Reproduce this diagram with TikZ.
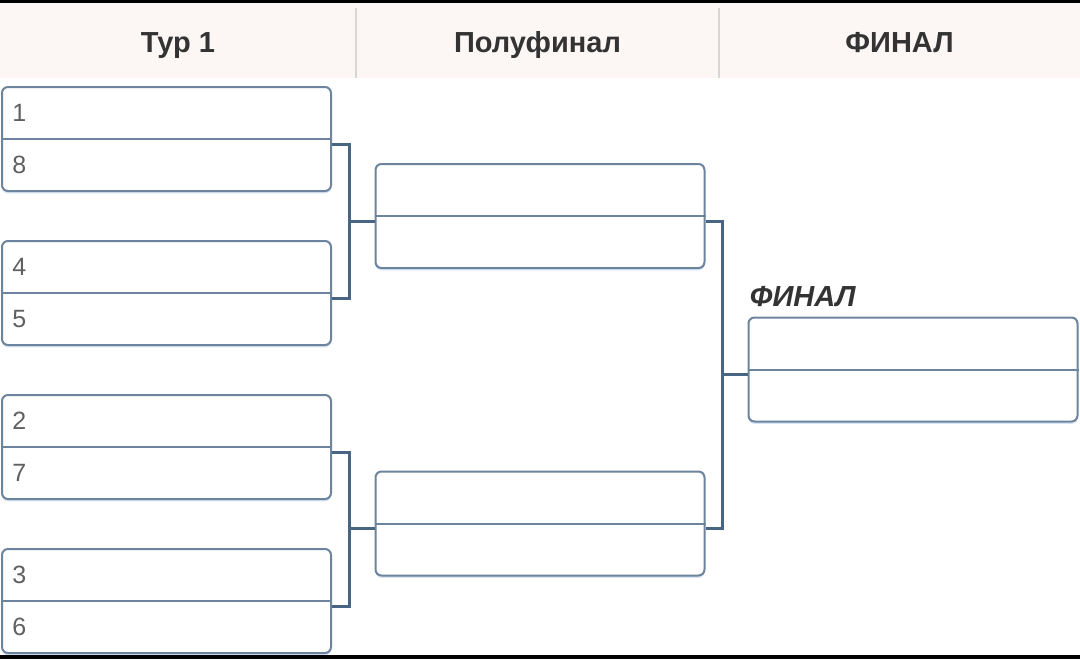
\documentclass[tikz,border=0pt]{standalone}
\usepackage{fontspec}
\setmainfont{Liberation Sans}
\usetikzlibrary{positioning,shadows}

\definecolor{boxline}{RGB}{108,132,158}
\definecolor{linkcol}{RGB}{72,102,132}
\definecolor{headbg}{RGB}{252,246,245}
\definecolor{headsep}{RGB}{214,214,214}
\definecolor{seedtext}{RGB}{96,96,96}
\definecolor{headtext}{RGB}{51,51,51}
\definecolor{glow}{RGB}{205,222,240}

\begin{document}
\begin{tikzpicture}[x=0.5pt,y=-0.5pt,
  team box/.style={draw=boxline,line width=1pt,rounded corners=3pt,fill=white,
    minimum width=164.5pt,minimum height=52pt,inner sep=0pt,
    drop shadow={shadow xshift=0pt,shadow yshift=-1.2pt,fill=glow,opacity=0.8}},
  seed/.style={anchor=west,inner sep=0pt,text=seedtext,font=\fontsize{12.5}{14}\selectfont},
  head cell/.style={fill=headbg,minimum width=178pt,minimum height=37.5pt,inner sep=0pt,
    text height=11.5pt,text depth=0pt,
    text=headtext,font=\fontsize{14.5}{16}\selectfont\bfseries},
  link/.style={draw=linkcol,line width=1.5pt},
  divider/.style={draw=boxline,line width=1pt}]

  \useasboundingbox (0,0) rectangle (1080,659);
  \fill[white] (0,0) rectangle (1080,659);

  % header
  \node[head cell] (hd1) at (178,40.5) {Тур 1};
  \node[head cell,minimum width=181.5pt] (hd2) at (537.5,40.5) {Полуфинал};
  \node[head cell,minimum width=180.5pt] (hd3) at (899.5,40.5) {ФИНАЛ};
  \draw[headsep,line width=1pt] ([yshift=-2.5pt]hd1.north east) -- (hd1.south east);
  \draw[headsep,line width=1pt] ([yshift=-2.5pt]hd2.north east) -- (hd2.south east);

  % round 1
  \node[team box] (r1a) at (166.5,139) {};
  \node[team box] (r1b) [below=24pt of r1a] {};
  \node[team box] (r1c) [below=24pt of r1b] {};
  \node[team box] (r1d) [below=24pt of r1c] {};

  % semifinals and final
  \node[team box] (sfa) at (540,216) {};
  \node[team box] (sfb) at (540,523.5) {};
  \node[team box] (fin) at (913,369.5) {};

  \draw[divider] (r1a.west) -- (r1a.east);
  \draw[divider] (r1b.west) -- (r1b.east);
  \draw[divider] (r1c.west) -- (r1c.east);
  \draw[divider] (r1d.west) -- (r1d.east);
  \draw[divider] (sfa.west) -- (sfa.east);
  \draw[divider] (sfb.west) -- (sfb.east);
  \draw[divider] (fin.west) -- (fin.east);

  \node[seed] (s1) at ([xshift=5.5pt,yshift=13pt]r1a.west) {1};
  \node[seed] (s8) at ([xshift=5.5pt,yshift=-13pt]r1a.west) {8};
  \node[seed] (s4) at ([xshift=5.5pt,yshift=13pt]r1b.west) {4};
  \node[seed] (s5) at ([xshift=5.5pt,yshift=-13pt]r1b.west) {5};
  \node[seed] (s2) at ([xshift=5.5pt,yshift=13pt]r1c.west) {2};
  \node[seed] (s7) at ([xshift=5.5pt,yshift=-13pt]r1c.west) {7};
  \node[seed] (s3) at ([xshift=5.5pt,yshift=13pt]r1d.west) {3};
  \node[seed] (s6) at ([xshift=5.5pt,yshift=-13pt]r1d.west) {6};

  \node[anchor=south west,inner sep=0pt,text=headtext,
    font=\fontsize{14.5}{16}\selectfont\bfseries\itshape] (finlbl)
    at ([xshift=1pt,yshift=4.5pt]fin.north west) {ФИНАЛ};

  % bracket lines
  \draw[link] ([yshift=-2.5pt]r1a.east) -| ([xshift=-12.5pt,yshift=-2.5pt]sfa.west)
    |- ([yshift=-2.5pt]r1b.east);
  \draw[link] ([xshift=-12.5pt,yshift=-2.5pt]sfa.west) -- ([yshift=-2.5pt]sfa.west);
  \draw[link] ([yshift=-2.5pt]r1c.east) -| ([xshift=-12.5pt,yshift=-2.5pt]sfb.west)
    |- ([yshift=-2.5pt]r1d.east);
  \draw[link] ([xshift=-12.5pt,yshift=-2.5pt]sfb.west) -- ([yshift=-2.5pt]sfb.west);
  \draw[link] ([yshift=-2.5pt]sfa.east) -| ([xshift=-12.5pt,yshift=-2.5pt]fin.west)
    |- ([yshift=-2.5pt]sfb.east);
  \draw[link] ([xshift=-12.5pt,yshift=-2.5pt]fin.west) -- ([yshift=-2.5pt]fin.west);

  % frame bands
  \fill[black] (0,0) rectangle (1080,3);
  \fill[black] (0,655) rectangle (1080,659);
\end{tikzpicture}
\end{document}
